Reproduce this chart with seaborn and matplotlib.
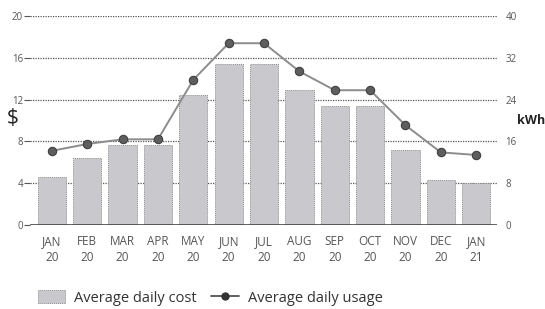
import matplotlib
matplotlib.use("Agg")
import matplotlib.pyplot as plt
import seaborn as sns
import pandas as pd
from matplotlib.patches import Patch
from matplotlib.lines import Line2D

months = ["JAN\n20", "FEB\n20", "MAR\n20", "APR\n20", "MAY\n20", "JUN\n20", "JUL\n20",
          "AUG\n20", "SEP\n20", "OCT\n20", "NOV\n20", "DEC\n20", "JAN\n21"]
cost = [4.6, 6.4, 7.65, 7.65, 12.4, 15.4, 15.4, 12.9, 11.4, 11.4, 7.2, 4.3, 4.05]
usage = [14.2, 15.5, 16.4, 16.4, 27.8, 34.8, 34.8, 29.4, 25.8, 25.8, 19.1, 13.9, 13.4]
left_ticks = [0, 4, 8, 12, 16, 20]
right_ticks = [0, 8, 16, 24, 32, 40]

sns.set_style("white")
plt.rcParams["font.family"] = ["Open Sans", "DejaVu Sans"]

df = pd.DataFrame({"month": months, "cost": cost, "usage": usage, "x": range(len(months))})

fig = plt.figure(figsize=(5.45, 3.09), dpi=100)
ax = fig.add_axes([0.055, 0.272, 0.857, 0.676])

for t in left_ticks[1:]:
    ax.axhline(t, color="#555555", lw=0.9, ls=(0, (1, 1)), zorder=0)

sns.barplot(data=df, x="month", y="cost", ax=ax, color="#c9c9cd", saturation=1,
            width=0.8, edgecolor="#8a8a8a", linewidth=0.7, zorder=2)
for p in ax.patches:
    p.set_linestyle((0, (1, 1)))

ax.axhline(0, color="#333333", lw=1.8, zorder=3)
ax.set_ylim(0, 20)
ax.set_xlim(-0.62, 12.59)
ax.set_yticks(left_ticks)
ax.set_xlabel("")
ax.set_ylabel("")
ax.tick_params(axis="y", length=4, width=0.8, color="#555555", labelsize=7, labelcolor="#555555", pad=1)
ax.tick_params(axis="x", length=0, labelsize=8.5, labelcolor="#555555", pad=7)
for lbl in ax.get_xticklabels():
    lbl.set_linespacing(1.3)
for s in ax.spines.values():
    s.set_visible(False)

ax2 = ax.twinx()
sns.lineplot(data=df, x="x", y="usage", ax=ax2, color="#8c8c8c", lw=1.4,
             marker="o", markersize=6, markerfacecolor="#5e5e5e",
             markeredgecolor="#3f3f3f", markeredgewidth=0.8, zorder=5)
ax2.set_ylim(0, 40)
ax2.set_yticks(right_ticks)
ax2.set_ylabel("")
ax2.set_xlabel("")
ax2.tick_params(axis="y", length=0, labelsize=7, labelcolor="#555555", pad=6)
for s in ax2.spines.values():
    s.set_visible(False)

fig.text(0.012, 0.615, "$", fontsize=15, color="#222222", va="center", ha="left")
fig.text(0.948, 0.61, "kWh", fontsize=9, fontweight="bold", color="#222222", va="center", ha="left")

handles = [Patch(facecolor="#c9c9cd", edgecolor="#8a8a8a", linestyle=(0, (1, 1)), linewidth=0.7),
           Line2D([0], [0], color="#444444", lw=1.2, marker="o", markersize=5,
                  markerfacecolor="#333333", markeredgecolor="#333333")]
fig.legend(handles, ["Average daily cost", "Average daily usage"], loc="center left",
           bbox_to_anchor=(0.045, 0.035), ncol=2, frameon=False, fontsize=10.5,
           handlelength=1.9, handleheight=1.0, columnspacing=1.0, handletextpad=0.6,
           labelcolor="#333333")

fig.savefig("out.png", dpi=100)
